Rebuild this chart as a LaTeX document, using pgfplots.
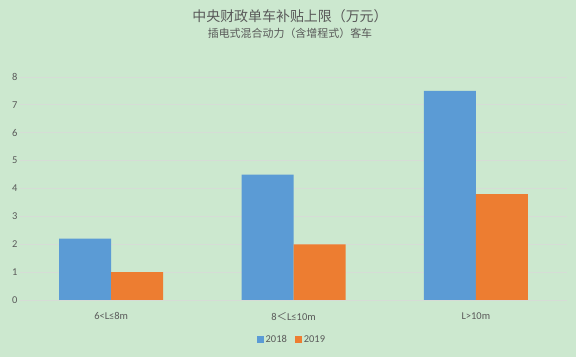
\documentclass[border=0pt]{standalone}
\usepackage{pgfplots}
\pgfplotsset{compat=1.18}
\usepackage{fontspec}
\setmainfont{Carlito}
\newfontfamily\cjk{Noto Sans CJK SC}
\definecolor{bg}{HTML}{CCE8CF}
\definecolor{txt}{HTML}{595959}
\definecolor{grid}{HTML}{D6DCD6}
\definecolor{cA}{HTML}{5B9BD5}
\definecolor{cB}{HTML}{ED7D31}
\begin{document}
\begin{tikzpicture}
\fill[bg] (0,0) rectangle (576bp,357bp);
\path[use as bounding box] (0,0) rectangle (576bp,357bp);
\node[text=txt, font=\cjk\fontsize{14}{16}\selectfont] at (290bp,341bp) {中央财政单车补贴上限（万元）};
\node[text=txt, font=\cjk\fontsize{11}{13}\selectfont] at (290bp,324bp) {插电式混合动力（含增程式）客车};
\begin{axis}[
  at={(20bp,57bp)}, anchor=south west, scale only axis,
  width=547bp, height=223bp,
  xmin=-0.5, xmax=2.5, ymin=0, ymax=8,
  ybar=0pt, bar width=52bp,
  axis line style={draw=none},
  xtick={0,1,2},
  xticklabels={{6<L≤8m},{8{\cjk ＜}L≤10m},{L>10m}},
  ytick={0,1,...,8},
  xmajorgrids=false, ymajorgrids=true, grid style={draw=grid, line width=0.9bp},
  major tick length=0pt,
  tick label style={text=txt, font=\fontsize{10.5}{12}\selectfont},
  yticklabel style={xshift=1bp},
  xticklabel style={yshift=-9bp},
  /pgf/number format/assume math mode=true,
  legend style={at={(0.497,-0.179)}, anchor=center, draw=none, fill=none,
    legend columns=2, font=\fontsize{10.5}{12}\selectfont, text=txt,
    /tikz/every even column/.append style={column sep=6bp}},
  legend image code/.code={\fill[#1] (0bp,-3.5bp) rectangle (7bp,3.5bp);},
]
\addplot[fill=cA, draw=none] coordinates {(0,2.2) (1,4.5) (2,7.5)};
\addplot[fill=cB, draw=none] coordinates {(0,1.0) (1,2.0) (2,3.8)};
\legend{2018,2019}
\end{axis}
\end{tikzpicture}
\end{document}
